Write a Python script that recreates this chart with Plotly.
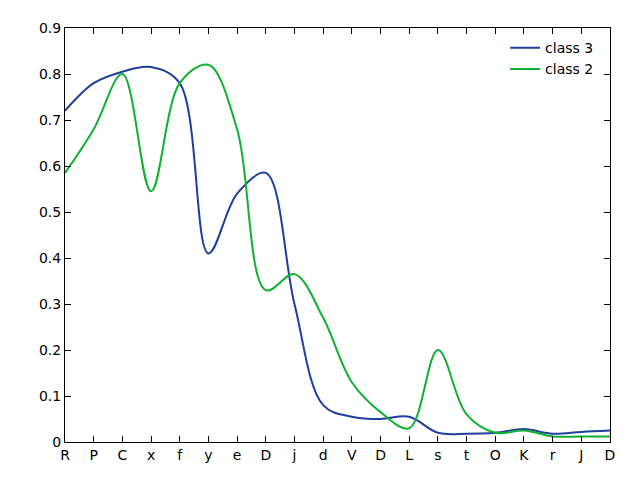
import plotly.graph_objects as go

labels = ["R", "P", "C", "x", "f", "y", "e", "D", "j", "d",
          "V", "D", "L", "s", "t", "O", "K", "r", "J", "D"]
class3 = [0.72, 0.78, 0.805, 0.815, 0.78, 0.41, 0.54, 0.585, 0.30, 0.08,
          0.055, 0.05, 0.055, 0.02, 0.018, 0.02, 0.028, 0.018, 0.022, 0.025]
class2 = [0.585, 0.68, 0.80, 0.545, 0.78, 0.82, 0.68, 0.33, 0.365, 0.27,
          0.13, 0.065, 0.03, 0.20, 0.06, 0.02, 0.025, 0.012, 0.012, 0.012]

xs = list(range(len(labels)))

fig = go.Figure()
fig.add_trace(go.Scatter(x=xs, y=class3, mode="lines", name="class 3",
                         line={"color": "#1f3f9f", "width": 2, "shape": "spline", "smoothing": 1.0}))
fig.add_trace(go.Scatter(x=xs, y=class2, mode="lines", name="class 2",
                         line={"color": "#10b030", "width": 2, "shape": "spline", "smoothing": 1.0}))

axis = dict(showline=True, linecolor="black", mirror="ticks", ticks="inside",
            ticklen=6, tickcolor="black", showgrid=False, zeroline=False)
fig.update_layout(
    width=640, height=480,
    margin={"l": 57, "r": 38, "t": 12, "b": 46},
    plot_bgcolor="white", paper_bgcolor="white",
    font={"family": "DejaVu Sans", "size": 14, "color": "black"},
    showlegend=True,
    legend={"x": 0.98, "y": 0.99, "xanchor": "right", "yanchor": "top",
            "bgcolor": "rgba(0,0,0,0)"},
    xaxis=dict(axis, tickmode="array", tickvals=xs, ticktext=labels, range=[0, 19]),
    yaxis=dict(axis, range=[0, 0.9], tickmode="array",
               tickvals=[0, 0.1, 0.2, 0.3, 0.4, 0.5, 0.6, 0.7, 0.8, 0.9],
               ticktext=["0", "0.1", "0.2", "0.3", "0.4", "0.5", "0.6", "0.7", "0.8", "0.9"]),
)
fig.write_html("out.html")
